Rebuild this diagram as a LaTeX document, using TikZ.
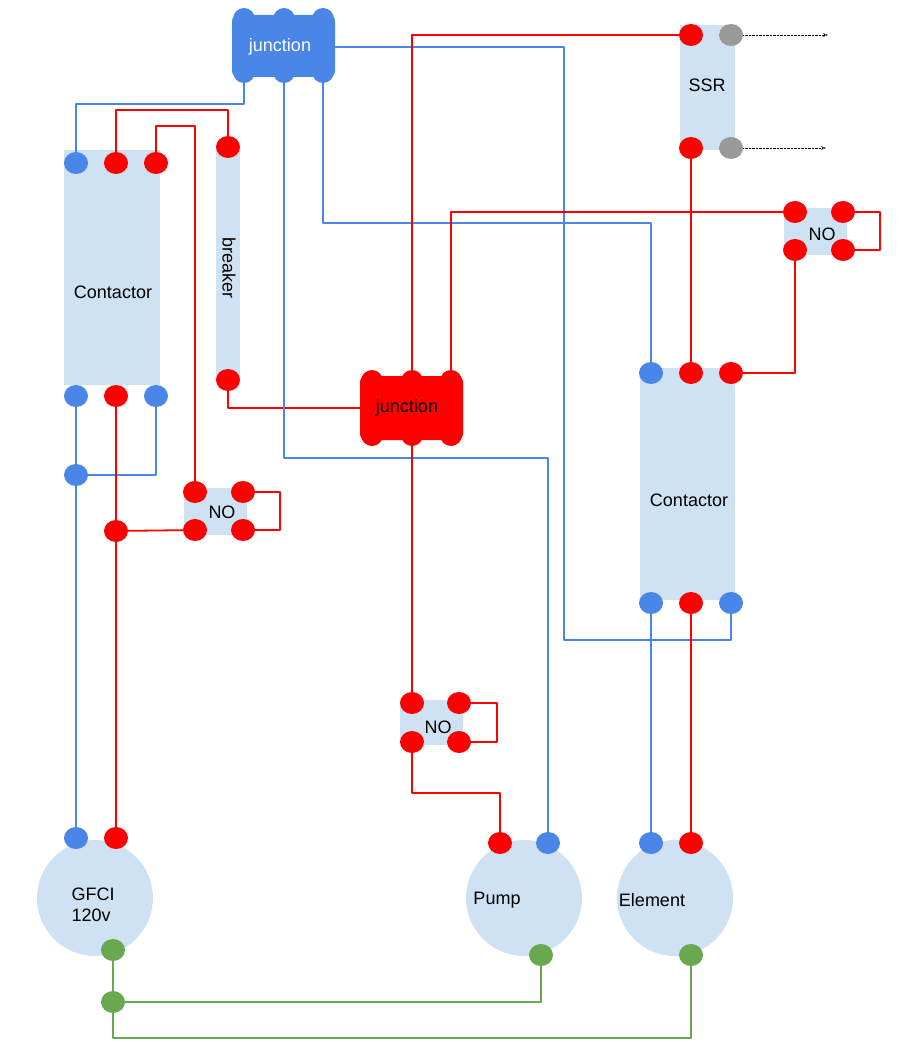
\documentclass[tikz,border=0pt]{standalone}
\usepackage{fontspec}
\setmainfont{Liberation Sans}
\usetikzlibrary{arrows.meta,shapes.geometric}
\definecolor{wblue}{HTML}{4A86E8}
\definecolor{wred}{HTML}{FF0000}
\definecolor{wgreen}{HTML}{6AA84F}
\definecolor{wgrey}{HTML}{999999}
\definecolor{part}{HTML}{CFE2F3}
\tikzset{
  term/.style={ellipse,minimum width=24pt,minimum height=22pt,inner sep=0pt,fill=#1},
  lbl/.style={font=\fontsize{18}{21}\selectfont},
  bw/.style={wblue,line width=1.8pt},
  rw/.style={wred,line width=1.8pt},
  gw/.style={wgreen,line width=1.8pt}
}
\begin{document}
\begin{tikzpicture}[x=1pt,y=-1pt,line join=round]
  \useasboundingbox (0,0) rectangle (899,1051);
  % parts
  \fill[part] (64,150) rectangle (160,385);
  \node[lbl] at (113,292) {Contactor};
  \fill[part] (216,145) rectangle (240,380);
  \node[lbl,rotate=-90] at (229,268) {breaker};
  \fill[part] (640,368) rectangle (735,600);
  \node[lbl] at (689,500) {Contactor};
  \fill[part] (680,25) rectangle (735,150);
  \node[lbl] at (707,85) {SSR};
  \fill[part] (184,488) rectangle (247,535);
  \node[lbl] at (222,512) {NO};
  \fill[part] (784,208) rectangle (847,255);
  \node[lbl] at (822,234) {NO};
  \fill[part] (400,700) rectangle (463,745);
  \node[lbl] at (438,727) {NO};
  \fill[part] (95,898) circle (58);
  \node[lbl,align=left] at (93,905) {GFCI\\120v};
  \fill[part] (524,898) circle (58);
  \node[lbl] at (497,900) {Pump};
  \fill[part] (675,898) circle (58);
  \node[lbl] at (652,900) {Element};
  % junctions
  \fill[wblue,rounded corners=6] (232,15) rectangle (335,77);
  \foreach \x in {244,284,323} {\fill[wblue] (\x,19) circle (11); \fill[wblue] (\x,72) circle (11);}
  \node[lbl,white] at (280,47) {junction};
  \fill[wred,rounded corners=6] (360,376) rectangle (463,440);
  \foreach \x in {372,412,451} {\fill[wred] (\x,381) circle (11); \fill[wred] (\x,435) circle (11);}
  \node[lbl] at (407,408) {junction};
  \coordinate (jbl) at (244,82); \coordinate (jbm) at (284,82); \coordinate (jbr) at (323,82);
  \coordinate (jbe) at (335,47);
  \coordinate (jrt) at (412,378); \coordinate (jrr) at (451,378);
  \coordinate (jrl) at (360,408); \coordinate (jrb) at (412,440);
  % terminals
  \node[term=wblue] (ct1) at (76,163) {}; \node[term=wred] (ct2) at (116,163) {}; \node[term=wred] (ct3) at (156,163) {};
  \node[term=wblue] (cb1) at (76,396) {}; \node[term=wred] (cb2) at (116,396) {}; \node[term=wblue] (cb3) at (156,396) {};
  \node[term=wred] (bk1) at (228,147) {}; \node[term=wred] (bk2) at (228,380) {};
  \node[term=wblue] (nb) at (76,475) {}; \node[term=wred] (nr) at (116,531) {};
  \node[term=wred] (na1) at (195,492) {}; \node[term=wred] (na2) at (243,492) {};
  \node[term=wred] (na3) at (195,530) {}; \node[term=wred] (na4) at (243,530) {};
  \node[term=wred] (nc1) at (795,212) {}; \node[term=wred] (nc2) at (843,212) {};
  \node[term=wred] (nc3) at (795,250) {}; \node[term=wred] (nc4) at (843,250) {};
  \node[term=wred] (nd1) at (412,703) {}; \node[term=wred] (nd2) at (459,703) {};
  \node[term=wred] (nd3) at (412,742) {}; \node[term=wred] (nd4) at (459,742) {};
  \node[term=wred] (s1) at (691,35) {}; \node[term=wgrey] (s2) at (731,35) {};
  \node[term=wred] (s3) at (691,148) {}; \node[term=wgrey] (s4) at (731,148) {};
  \node[term=wblue] (dt1) at (651,373) {}; \node[term=wred] (dt2) at (691,373) {}; \node[term=wred] (dt3) at (731,373) {};
  \node[term=wblue] (db1) at (651,603) {}; \node[term=wred] (db2) at (691,603) {}; \node[term=wblue] (db3) at (731,603) {};
  \node[term=wblue] (g1) at (76,838) {}; \node[term=wred] (g2) at (116,838) {};
  \node[term=wred] (p1) at (500,843) {}; \node[term=wblue] (p2) at (548,843) {};
  \node[term=wblue] (e1) at (651,843) {}; \node[term=wred] (e2) at (691,843) {};
  \node[term=wgreen] (g3) at (113,950) {}; \node[term=wgreen] (gn) at (113,1002) {};
  \node[term=wgreen] (p3) at (541,955) {}; \node[term=wgreen] (e3) at (691,955) {};
  \coordinate (a1) at (828,35); \coordinate (a2) at (826,148);
  % wires
  \draw[bw] (jbl) |- (76,104) -- (ct1);
  \draw[rw] (ct2) |- (228,110) -- (bk1);
  \draw[rw] (ct3) |- (195,126) -- (na1);
  \draw[rw] (bk2) |- (jrl);
  \draw[bw] (jbm) |- (p2.north |- 0,458) -- (p2);
  \draw[bw] (jbe) -| (564,640) -| (db3);
  \draw[bw] (jbr) |- (dt1.north |- 0,223) -- (dt1);
  \draw[rw] (s1) -| (jrt);
  \draw[rw] (jrr) |- (nc1);
  \draw[rw] (s3) -- (dt2);
  \draw[rw] (dt3) -| (nc3);
  \draw[rw] (nc2) -| (880,250) -- (nc4);
  \draw[rw] (na2) -| (280,530) -- (na4);
  \draw[rw] (nd2) -| (497,742) -- (nd4);
  \draw[rw] (jrb) -- (nd1);
  \draw[rw] (nd3) |- (500,793) -- (p1);
  \draw[bw] (db1) -- (e1);
  \draw[rw] (db2) -- (e2);
  \draw[bw] (cb1) -- (nb) -- (g1);
  \draw[bw] (cb3) |- (nb);
  \draw[rw] (cb2) -- (nr) -- (g2);
  \draw[rw] (nr) -- (na3);
  \draw[gw] (g3) -- (gn) |- (691,1038) -- (e3);
  \draw[gw] (gn) -| (p3);
  \draw[densely dotted,-{Stealth[length=5pt,open]}] (s2) -- (a1);
  \draw[densely dotted,-{Stealth[length=5pt,open]}] (s4) -- (a2);
\end{tikzpicture}
\end{document}
